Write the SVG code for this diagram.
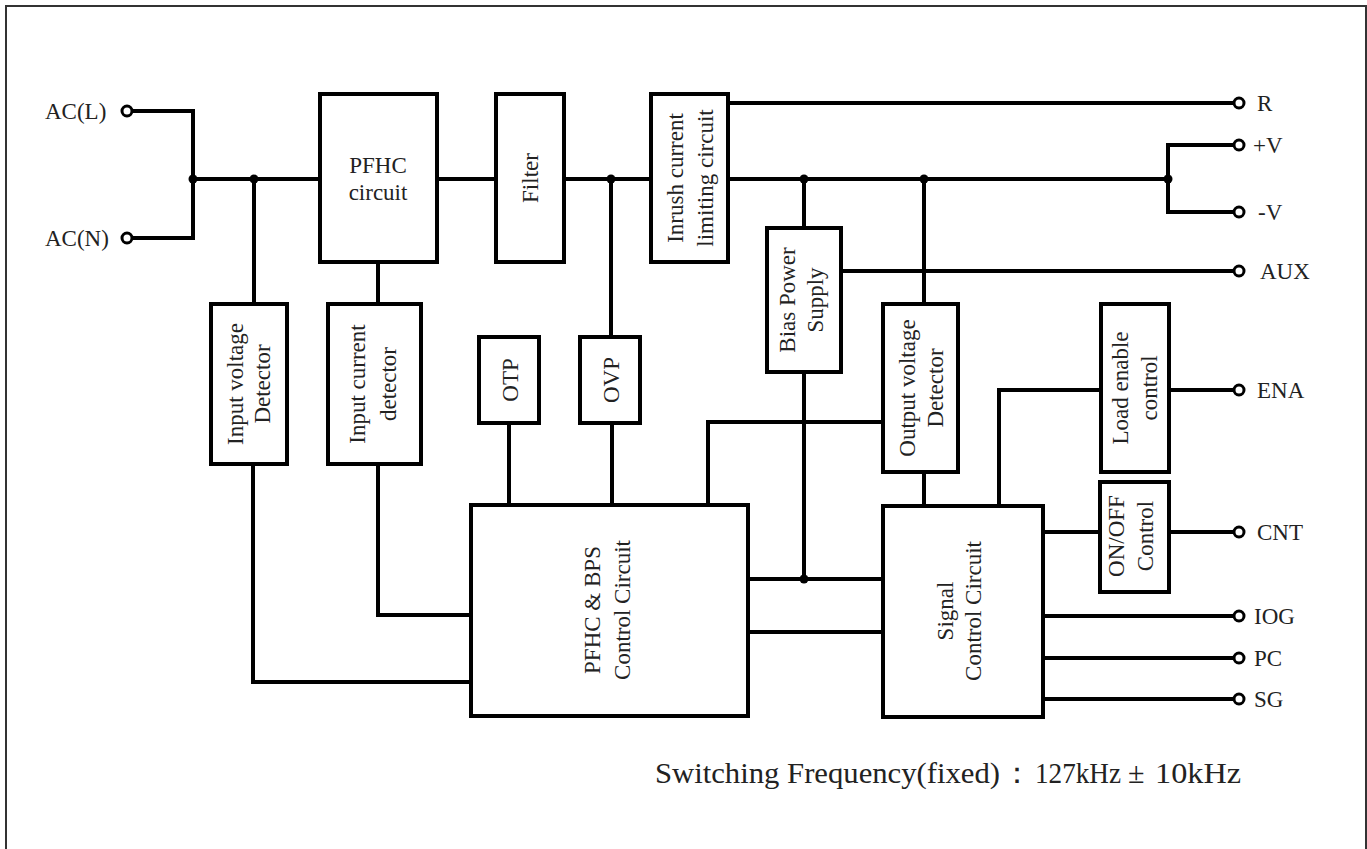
<svg xmlns="http://www.w3.org/2000/svg" width="1367" height="849" viewBox="0 0 1367 849">
<style>
.bx{fill:#fff;stroke:#000;stroke-width:4}
.ln{fill:none;stroke:#000;stroke-width:4}
.dot{fill:#000}
.term{fill:#fff;stroke:#000;stroke-width:3}
text{font-family:"Liberation Serif","Times New Roman",serif;fill:#222}
.nt{font-size:23px;text-anchor:middle}
.lb{font-size:23px}
.ft{font-size:30px}
</style>
<rect width="1367" height="849" fill="#fff"/>
<path d="M6,852 V6 H1366 V852" fill="none" stroke="#333" stroke-width="2"/>

<g id="connectors">
<path class="ln" d="M132,111 H193 V238 H132"/>
<path class="ln" d="M193,179 H320"/>
<path class="ln" d="M254,179 V304"/>
<path class="ln" d="M437,179 H496"/>
<path class="ln" d="M564,179 H651"/>
<path class="ln" d="M611,179 V337"/>
<path class="ln" d="M728,103 H1234"/>
<path class="ln" d="M728,179 H1168"/>
<path class="ln" d="M804,179 V228"/>
<path class="ln" d="M924,179 V304"/>
<path class="ln" d="M1234,145 H1168 V212 H1234"/>
<path class="ln" d="M841,271 H1234"/>
<path class="ln" d="M804,372 V579"/>
<path class="ln" d="M748,579 H883"/>
<path class="ln" d="M748,632 H883"/>
<path class="ln" d="M378,262 V304"/>
<path class="ln" d="M378,464 V615 H471"/>
<path class="ln" d="M253,464 V682 H471"/>
<path class="ln" d="M509,423 V505"/>
<path class="ln" d="M612,423 V505"/>
<path class="ln" d="M708,505 V422 H883"/>
<path class="ln" d="M924,472 V506"/>
<path class="ln" d="M999,506 V390 H1101"/>
<path class="ln" d="M1169,390 H1234"/>
<path class="ln" d="M1043,532 H1100"/>
<path class="ln" d="M1169,532 H1234"/>
<path class="ln" d="M1043,616 H1234"/>
<path class="ln" d="M1043,658 H1234"/>
<path class="ln" d="M1043,699 H1234"/>
<circle class="dot" cx="193" cy="179" r="4.5"/>
<circle class="dot" cx="254" cy="179" r="4.5"/>
<circle class="dot" cx="611" cy="179" r="4.5"/>
<circle class="dot" cx="804" cy="179" r="4.5"/>
<circle class="dot" cx="924" cy="179" r="4.5"/>
<circle class="dot" cx="1168" cy="179" r="4.5"/>
<circle class="dot" cx="804" cy="579" r="4.5"/>
</g>

<g id="terminals">
<circle class="term" cx="127" cy="111" r="5"/>
<circle class="term" cx="127" cy="238" r="5"/>
<circle class="term" cx="1239" cy="103" r="5"/>
<circle class="term" cx="1239" cy="145" r="5"/>
<circle class="term" cx="1239" cy="212" r="5"/>
<circle class="term" cx="1239" cy="271" r="5"/>
<circle class="term" cx="1239" cy="390" r="5"/>
<circle class="term" cx="1239" cy="532" r="5"/>
<circle class="term" cx="1239" cy="616" r="5"/>
<circle class="term" cx="1239" cy="658" r="5"/>
<circle class="term" cx="1239" cy="699" r="5"/>
<text class="lb" x="45" y="119">AC(L)</text>
<text class="lb" x="45" y="246">AC(N)</text>
<text class="lb" x="1257" y="111">R</text>
<text class="lb" x="1253" y="153">+V</text>
<text class="lb" x="1258" y="220">-V</text>
<text class="lb" x="1260" y="279">AUX</text>
<text class="lb" x="1257" y="398">ENA</text>
<text class="lb" x="1257" y="540">CNT</text>
<text class="lb" x="1254" y="624">IOG</text>
<text class="lb" x="1254" y="666">PC</text>
<text class="lb" x="1254" y="707">SG</text>
</g>

<g id="pfhc">
<rect class="bx" x="320" y="94" width="117" height="168"/>
<text class="nt" x="378" y="173">PFHC</text>
<text class="nt" x="378" y="200">circuit</text>
</g>
<g id="filter">
<rect class="bx" x="496" y="94" width="68" height="168"/>
<text class="nt" transform="translate(530,178) rotate(-90)" y="8">Filter</text>
</g>
<g id="inrush">
<rect class="bx" x="651" y="94" width="77" height="168"/>
<text class="nt" transform="translate(690,178) rotate(-90)"><tspan x="0" y="-7">Inrush current</tspan><tspan x="0" y="23">limiting circuit</tspan></text>
</g>
<g id="input-voltage-detector">
<rect class="bx" x="211" y="304" width="76" height="160"/>
<text class="nt" transform="translate(249,384) rotate(-90)"><tspan x="0" y="-6">Input voltage</tspan><tspan x="0" y="21">Detector</tspan></text>
</g>
<g id="input-current-detector">
<rect class="bx" x="328" y="304" width="93" height="160"/>
<text class="nt" transform="translate(373,384) rotate(-90)"><tspan x="0" y="-8">Input current</tspan><tspan x="0" y="23">detector</tspan></text>
</g>
<g id="otp">
<rect class="bx" x="479" y="337" width="60" height="86"/>
<text class="nt" transform="translate(510,380) rotate(-90)" y="8">OTP</text>
</g>
<g id="ovp">
<rect class="bx" x="580" y="337" width="60" height="86"/>
<text class="nt" transform="translate(611,380) rotate(-90)" y="8">OVP</text>
</g>
<g id="bias-power-supply">
<rect class="bx" x="767" y="228" width="74" height="144"/>
<text class="nt" transform="translate(801,300) rotate(-90)"><tspan x="0" y="-6">Bias Power</tspan><tspan x="0" y="22">Supply</tspan></text>
</g>
<g id="output-voltage-detector">
<rect class="bx" x="883" y="304" width="75" height="168"/>
<text class="nt" transform="translate(921,388) rotate(-90)"><tspan x="0" y="-6">Output voltage</tspan><tspan x="0" y="22">Detector</tspan></text>
</g>
<g id="load-enable-control">
<rect class="bx" x="1101" y="304" width="68" height="168"/>
<text class="nt" transform="translate(1135,388) rotate(-90)"><tspan x="0" y="-7">Load enable</tspan><tspan x="0" y="22">control</tspan></text>
</g>
<g id="onoff-control">
<rect class="bx" x="1100" y="482" width="69" height="110"/>
<text class="nt" transform="translate(1131,536) rotate(-90)"><tspan x="0" y="-7">ON/OFF</tspan><tspan x="0" y="22">Control</tspan></text>
</g>
<g id="pfhc-bps-control">
<rect class="bx" x="471" y="505" width="277" height="211"/>
<text class="nt" transform="translate(607,610) rotate(-90)"><tspan x="0" y="-7">PFHC &amp; BPS</tspan><tspan x="0" y="23">Control Circuit</tspan></text>
</g>
<g id="signal-control">
<rect class="bx" x="883" y="506" width="160" height="211"/>
<text class="nt" transform="translate(959,611) rotate(-90)"><tspan x="0" y="-6">Signal</tspan><tspan x="0" y="22">Control Circuit</tspan></text>
</g>

<text class="ft" x="655" y="783" textLength="345" lengthAdjust="spacingAndGlyphs">Switching Frequency(fixed)</text>
<text class="ft" x="1002" y="783">：</text>
<text class="ft" x="1035" y="783" textLength="86" lengthAdjust="spacingAndGlyphs">127kHz</text>
<text class="ft" x="1128" y="783" font-size="32">±</text>
<text class="ft" x="1155" y="783" textLength="86" lengthAdjust="spacingAndGlyphs">10kHz</text>
</svg>
